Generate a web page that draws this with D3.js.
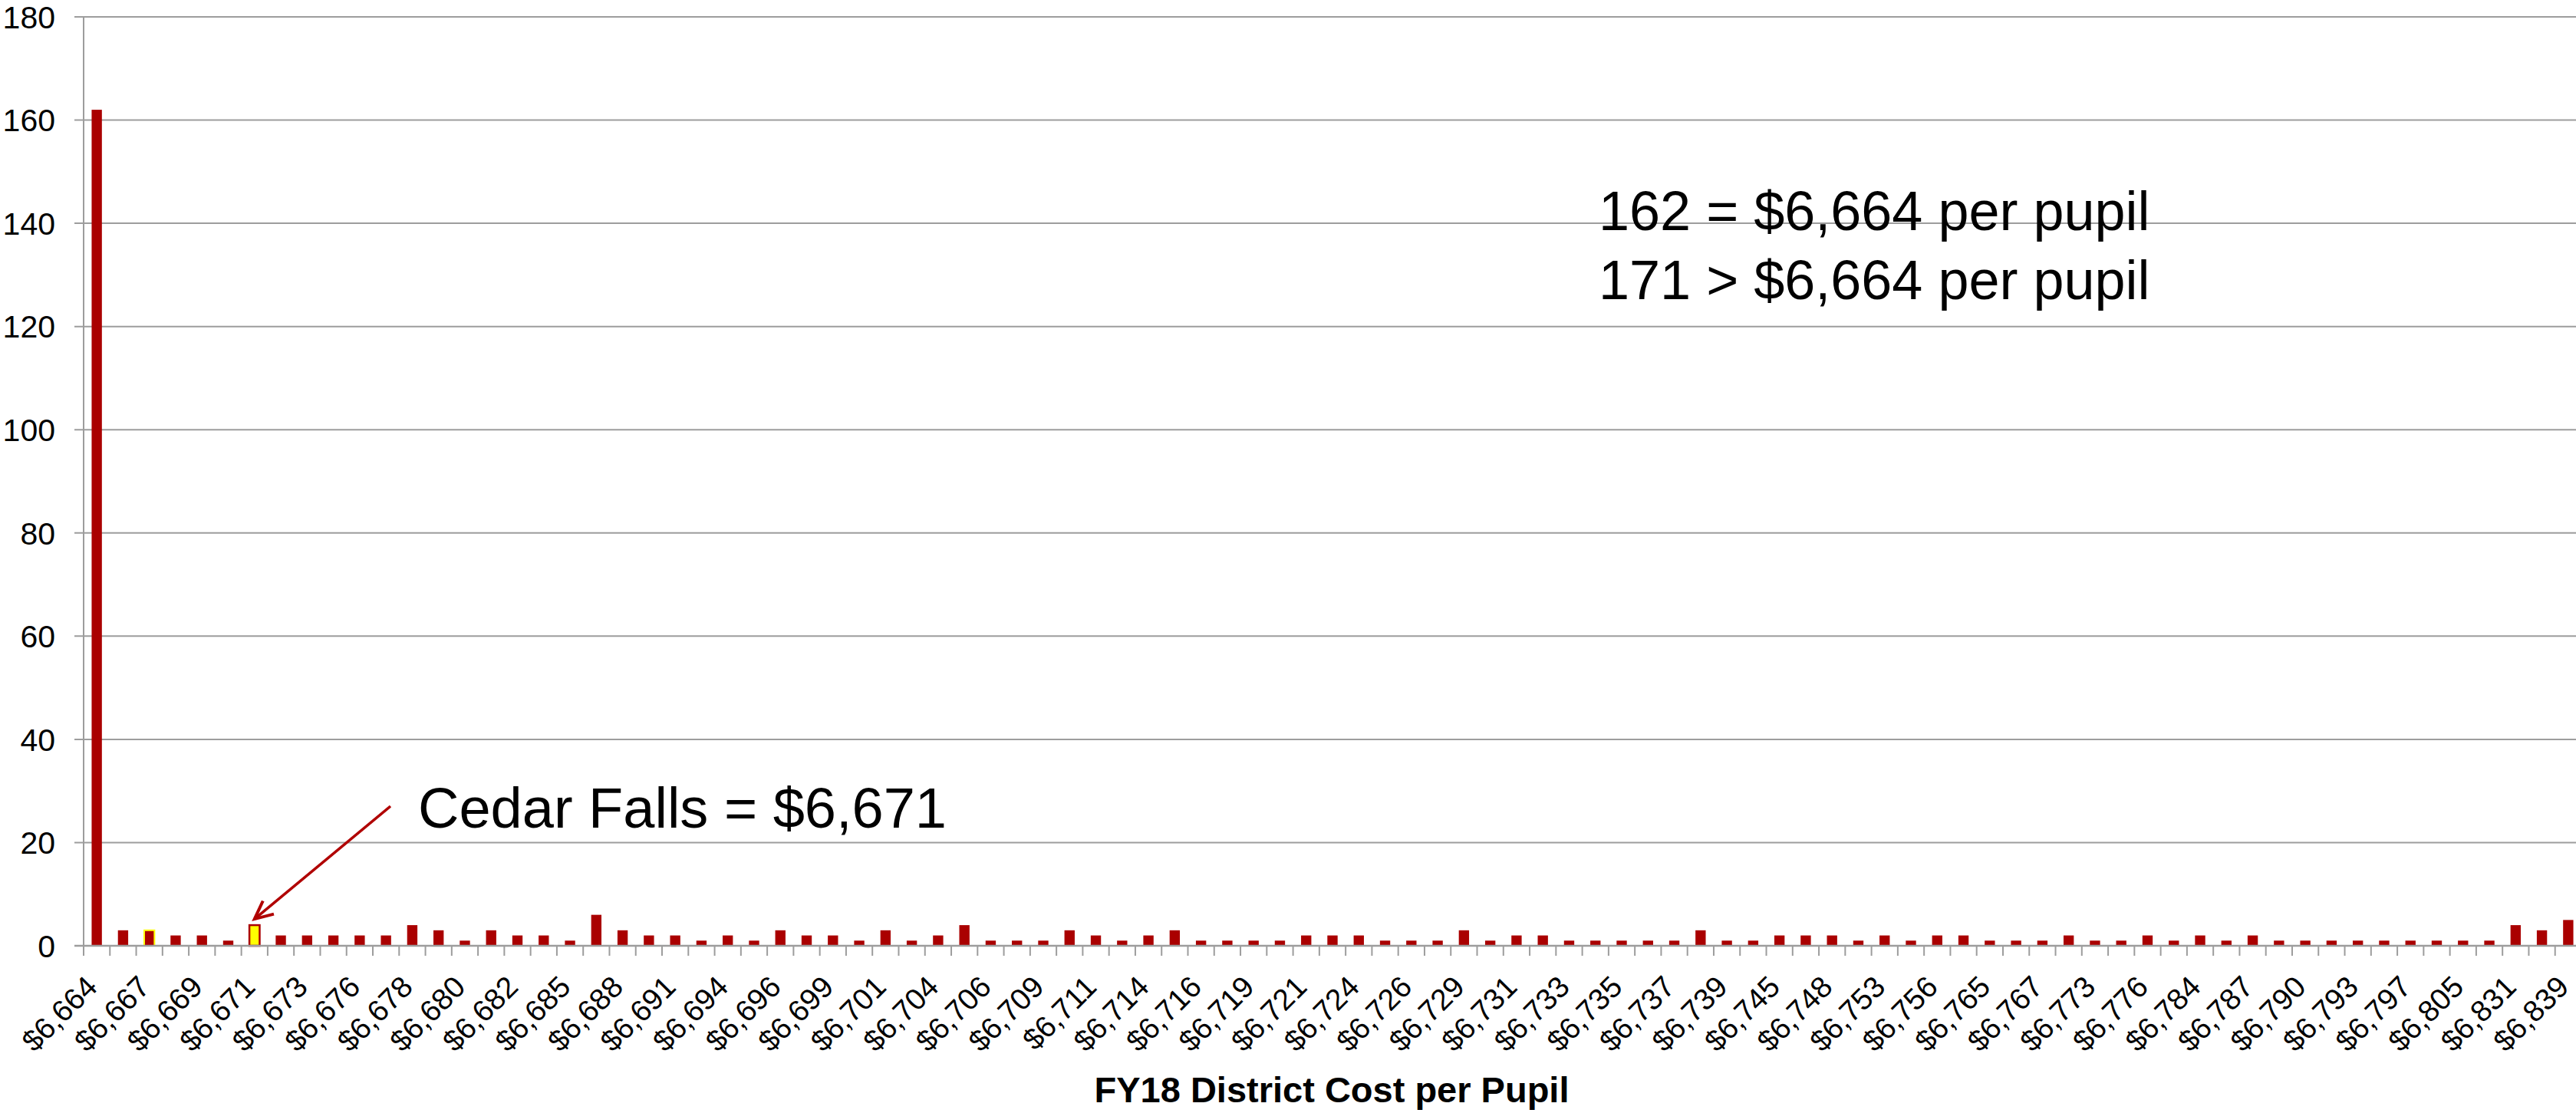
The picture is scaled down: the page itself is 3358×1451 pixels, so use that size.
<!DOCTYPE html>
<html>
<head>
<meta charset="utf-8">
<script src="https://cdn.jsdelivr.net/npm/d3@7"></script>
<style>
  body { margin: 0; background: #fff; }
  svg { display: block; }
</style>
</head>
<body>
<div id="container"></div>
<script>
// number of districts at each cost level, left to right
const districtCounts = [
    162, 3, 3, 2, 2, 1, 4, 2, 2, 2, 2, 2, 4, 3,
    1, 3, 2, 2, 1, 6, 3, 2, 2, 1, 2, 1, 3, 2, 2, 1, 3,
    1, 2, 4, 1, 1, 1, 3, 2, 1, 2, 3, 1, 1, 1, 1, 2, 2,
    2, 1, 1, 1, 3, 1, 2, 2, 1, 1, 1, 1, 1, 3, 1, 1, 2,
    2, 2, 1, 2, 1, 2, 2, 1, 1, 1, 2, 1, 1, 2, 1, 2, 1,
    2, 1, 1, 1, 1, 1, 1, 1, 1, 1, 4, 3, 5
];

// only every other category carries a label on the axis
const costLabels = [
    '$6,664', '$6,667', '$6,669', '$6,671', '$6,673', '$6,676', '$6,678', '$6,680',
    '$6,682', '$6,685', '$6,688', '$6,691', '$6,694', '$6,696', '$6,699', '$6,701',
    '$6,704', '$6,706', '$6,709', '$6,711', '$6,714', '$6,716', '$6,719', '$6,721',
    '$6,724', '$6,726', '$6,729', '$6,731', '$6,733', '$6,735', '$6,737', '$6,739',
    '$6,745', '$6,748', '$6,753', '$6,756', '$6,765', '$6,767', '$6,773', '$6,776',
    '$6,784', '$6,787', '$6,790', '$6,793', '$6,797', '$6,805', '$6,831', '$6,839'
];

const yTicks = [0, 20, 40, 60, 80, 100, 120, 140, 160, 180];

const cedarFalls = 6;      // yellow bar
const outlinedBar = 2;     // red bar with yellow edge

const W = 3358, H = 1451;
const plot = { left: 109, right: 3365, top: 22, bottom: 1233 };
const red = '#aa0000';
const gray = '#9d9d9d';
const font = 'Liberation Sans, Arial, sans-serif';

const svg = d3.select('#container')
    .append('svg')
    .attr('width', W)
    .attr('height', H)
    .attr('viewBox', `0 0 ${W} ${H}`)
    .style('font-family', font);

const idx = d3.range(districtCounts.length);

const x = d3.scaleBand()
    .domain(idx)
    .range([plot.left, plot.right])
    .paddingInner(0.61)
    .paddingOuter(0.305);

const y = d3.scaleLinear()
    .domain([0, 180])
    .range([plot.bottom, plot.top]);

const step = x.step();
const bandLeft = i => x(i) - step * x.paddingInner() / 2;
const center = i => x(i) + x.bandwidth() / 2;

// gridlines with the short outward tick
svg.append('g')
    .selectAll('line')
    .data(yTicks.filter(t => t > 0)).enter()
    .append('line')
    .attr('x1', plot.left - 12)
    .attr('x2', W)
    .attr('y1', d => y(d))
    .attr('y2', d => y(d))
    .attr('stroke', gray)
    .attr('stroke-width', 2);

// y labels
svg.append('g')
    .selectAll('text')
    .data(yTicks).enter()
    .append('text')
    .attr('x', 72)
    .attr('y', d => y(d))
    .attr('dy', '0.36em')
    .attr('text-anchor', 'end')
    .attr('font-size', 41)
    .attr('fill', '#000')
    .text(d => d);

// y axis line
svg.append('line')
    .attr('x1', plot.left).attr('x2', plot.left)
    .attr('y1', plot.top).attr('y2', plot.bottom)
    .attr('stroke', gray)
    .attr('stroke-width', 2);

// bars
svg.append('g')
    .selectAll('rect')
    .data(idx).enter()
    .append('rect')
    .attr('x', i => x(i))
    .attr('width', x.bandwidth())
    .attr('y', i => y(districtCounts[i]))
    .attr('height', i => y(0) - y(districtCounts[i]))
    .attr('fill', i => i === cedarFalls ? '#ffff00' : red)
    .attr('stroke', i => i === cedarFalls ? red : (i === outlinedBar ? '#ffff00' : 'none'))
    .attr('stroke-width', i => i === cedarFalls ? 2.5 : 2);

// x axis line and ticks between categories
svg.append('line')
    .attr('x1', plot.left - 12).attr('x2', W)
    .attr('y1', plot.bottom).attr('y2', plot.bottom)
    .attr('stroke', gray)
    .attr('stroke-width', 2.5);

svg.append('g')
    .selectAll('line')
    .data(idx).enter()
    .append('line')
    .attr('x1', i => bandLeft(i))
    .attr('x2', i => bandLeft(i))
    .attr('y1', plot.bottom)
    .attr('y2', plot.bottom + 13)
    .attr('stroke', gray)
    .attr('stroke-width', 2);

// x labels, every other category
svg.append('g')
    .selectAll('text')
    .data(costLabels).enter()
    .append('text')
    .attr('transform', (d, k) => `translate(${center(k * 2) + 3}, ${plot.bottom + 56}) rotate(-45)`)
    .attr('text-anchor', 'end')
    .attr('font-size', 39)
    .attr('fill', '#000')
    .text(d => d);

// axis title
svg.append('text')
    .attr('x', 1736)
    .attr('y', 1437)
    .attr('text-anchor', 'middle')
    .attr('font-size', 47)
    .attr('font-weight', 'bold')
    .attr('fill', '#000')
    .text('FY18 District Cost per Pupil');

// summary note
svg.append('text')
    .attr('x', 2084)
    .attr('y', 300)
    .attr('font-size', 72)
    .attr('fill', '#000')
    .text('162 = $6,664 per pupil');

svg.append('text')
    .attr('x', 2084)
    .attr('y', 390)
    .attr('font-size', 72)
    .attr('fill', '#000')
    .text('171 > $6,664 per pupil');

// Cedar Falls callout
svg.append('text')
    .attr('x', 545)
    .attr('y', 1079)
    .attr('font-size', 74)
    .attr('fill', '#000')
    .text('Cedar Falls = $6,671');

const tip = { x: center(cedarFalls), y: y(districtCounts[cedarFalls]) - 8 };
const tail = { x: 509, y: 1051 };
const ang = Math.atan2(tip.y - tail.y, tip.x - tail.x);
const head = 26;

svg.append('line')
    .attr('x1', tail.x).attr('y1', tail.y)
    .attr('x2', tip.x).attr('y2', tip.y)
    .attr('stroke', '#b00000')
    .attr('stroke-width', 3.5);

svg.append('path')
    .attr('d', `M${tip.x + head * Math.cos(ang + 2.7)},${tip.y + head * Math.sin(ang + 2.7)}
        L${tip.x},${tip.y}
        L${tip.x + head * Math.cos(ang - 2.7)},${tip.y + head * Math.sin(ang - 2.7)}`)
    .attr('fill', 'none')
    .attr('stroke', '#b00000')
    .attr('stroke-width', 4)
    .attr('stroke-linejoin', 'miter');
</script>
</body>
</html>
